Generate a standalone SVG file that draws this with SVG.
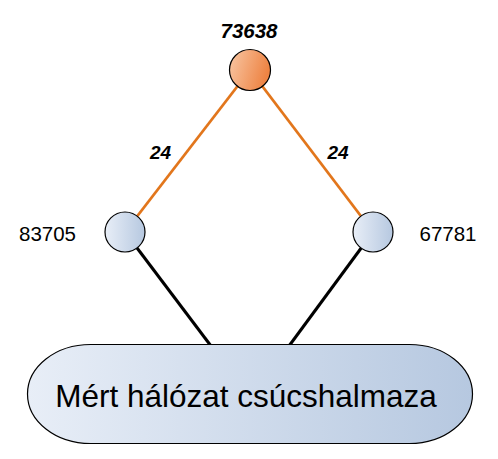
<svg xmlns="http://www.w3.org/2000/svg" width="498" height="459" viewBox="0 0 498 459">
<defs>
<linearGradient id="blue" x1="0" y1="0" x2="1" y2="0">
<stop offset="0" stop-color="#e8eef7"/>
<stop offset="1" stop-color="#b6c8e0"/>
</linearGradient>
<linearGradient id="orange" x1="0" y1="0" x2="1" y2="0.3">
<stop offset="0" stop-color="#f8c8a6"/>
<stop offset="1" stop-color="#ee8444"/>
</linearGradient>
<style>
.node{stroke:#000;stroke-width:1.2}
.lbl{font-family:"Liberation Sans",Arial,sans-serif;fill:#000}
.bi{font-weight:bold;font-style:italic}
.or{stroke:#e2761c;stroke-width:2.8;fill:none}
.bk{stroke:#000;stroke-width:3;fill:none}
</style>
</defs>
<rect width="498" height="459" fill="#fff"/>
<g id="connectors">
<line class="or" x1="250" y1="70" x2="125" y2="232"/>
<line class="or" x1="250" y1="70" x2="373" y2="232"/>
<line class="bk" x1="125" y1="232" x2="211" y2="346"/>
<line class="bk" x1="373" y1="232" x2="289" y2="346"/>
<text class="lbl bi" x="160.5" y="159" font-size="19" text-anchor="middle">24</text>
<text class="lbl bi" x="338" y="159" font-size="19" text-anchor="middle">24</text>
</g>
<g id="n73638">
<circle class="node" cx="250" cy="70" r="20.5" fill="url(#orange)"/>
<text class="lbl bi" x="249" y="38" font-size="20.5" text-anchor="middle">73638</text>
</g>
<g id="n83705">
<circle class="node" cx="125" cy="232" r="20" fill="url(#blue)"/>
<text class="lbl" x="47.5" y="241" font-size="20.5" text-anchor="middle">83705</text>
</g>
<g id="n67781">
<circle class="node" cx="373" cy="232" r="20" fill="url(#blue)"/>
<text class="lbl" x="448" y="241" font-size="20.5" text-anchor="middle">67781</text>
</g>
<g id="set">
<rect class="node" x="27.5" y="344.5" width="445" height="99" rx="63" ry="49.5" fill="url(#blue)"/>
<text class="lbl" x="246" y="407" font-size="31.5" text-anchor="middle">Mért hálózat csúcshalmaza</text>
</g>
</svg>
